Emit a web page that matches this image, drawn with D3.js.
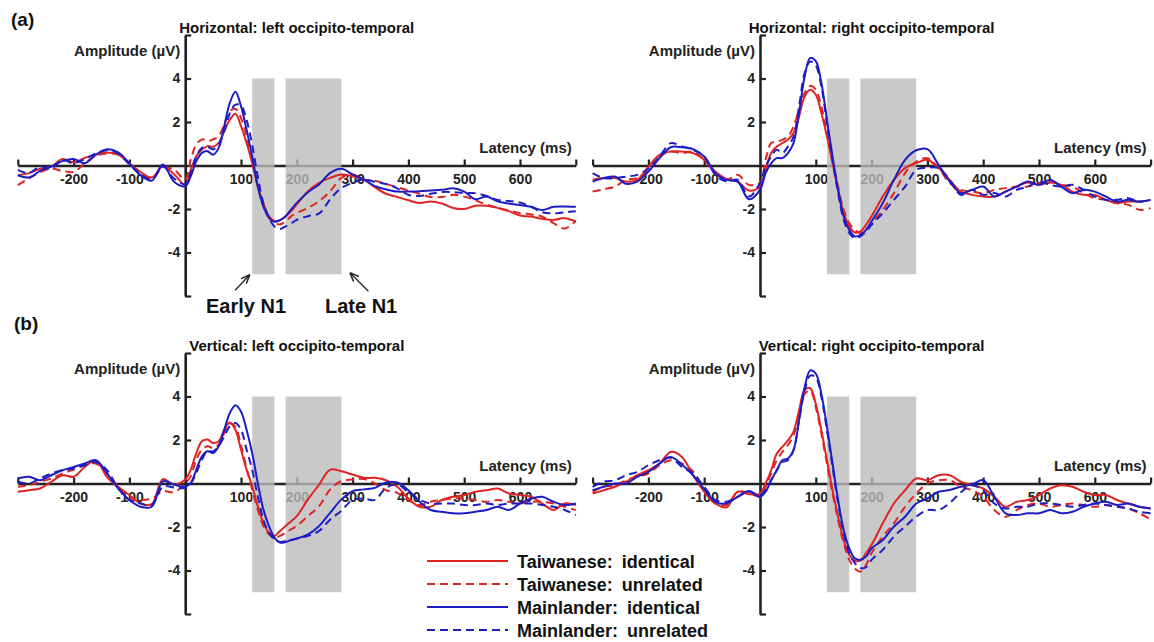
<!DOCTYPE html>
<html>
<head>
<meta charset="utf-8">
<script src="https://d3js.org/d3.v7.min.js"></script>
<style>
body { margin: 0; background: #fff; }
svg text { font-family: "Liberation Sans", Arial, sans-serif; font-weight: bold; }
</style>
</head>
<body>
<div id="canvas"></div>
<script>
"use strict"

/* latency samples (ms) shared by every curve */
let latency = [-300,-280,-260,-240,-220,-200,-180,-160,-140,-120,-100,-80,-60,-40,-20,0,
    10,20,30,40,50,60,70,80,90,100,110,120,130,140,150,160,170,180,190,200,
    220,240,260,280,300,320,340,360,380,400,420,440,460,480,500,520,540,560,580,600,620,640,660,680,700];

let conditions = ["Taiwanese: identical", "Taiwanese: unrelated", "Mainlander: identical", "Mainlander: unrelated"];
let panelTitles = ["Horizontal: left occipito-temporal", "Horizontal: right occipito-temporal",
    "Vertical: left occipito-temporal", "Vertical: right occipito-temporal"];
let xTicks = [-300, -200, -100, 100, 200, 300, 400, 500, 600, 700];
let yTicks = [-6, -4, -2, 2, 4, 6];
let earlyN1 = [120, 160];
let lateN1 = [180, 280];

// Horizontal, left occipito-temporal (uV)
let hlTaiIdentical = [-0.45,-0.35,-0.15,-0.05,0.3,0.15,0.35,0.5,0.6,0.5,0.1,-0.3,-0.55,-0.05,-0.4,-0.9,
    -0.2,0.43,0.74,0.89,0.86,1.04,1.58,2.11,2.38,1.81,1.04,0.12,-0.95,-1.72,-2.33,-2.56,-2.51,-2.33,-2.1,-1.79,
    -1.18,-0.8,-0.57,-0.41,-0.49,-0.64,-1.0,-1.3,-1.45,-1.6,-1.72,-1.65,-1.75,-1.95,-2.0,-1.85,-1.85,-1.95,-2.1,-2.3,-2.35,-2.45,-2.5,-2.42,-2.57];
let hlTaiUnrelated = [-0.9,-0.6,-0.3,-0.15,-0.25,-0.3,0.1,0.45,0.55,0.5,0.1,-0.35,-0.6,-0.1,-0.2,-0.64,
    0.28,0.97,1.2,1.12,1.2,1.35,1.88,2.5,2.6,2.19,1.35,0.28,-0.95,-1.87,-2.4,-2.64,-2.71,-2.56,-2.33,-2.18,
    -1.95,-1.64,-1.18,-0.57,-0.41,-0.64,-0.7,-0.85,-1.0,-1.15,-1.3,-1.45,-1.45,-1.35,-1.43,-1.6,-1.8,-1.95,-2.07,-2.19,-2.25,-2.35,-2.65,-2.9,-2.55];
let hlMaiIdentical = [-0.45,-0.55,-0.25,-0.05,0.2,0.3,0.1,0.5,0.75,0.6,0.1,-0.45,-0.7,0.05,-0.75,-0.95,
    -0.49,0.2,0.58,0.66,0.5,0.81,1.81,2.88,3.39,2.73,1.65,0.43,-0.95,-1.87,-2.4,-2.59,-2.51,-2.33,-2.02,-1.72,
    -1.23,-0.87,-0.34,-0.15,-0.41,-0.64,-0.95,-1.1,-1.2,-1.2,-1.18,-1.15,-1.12,-1.05,-1.2,-1.55,-1.43,-1.65,-1.75,-1.82,-1.9,-2.05,-1.9,-1.88,-1.9];
let hlMaiUnrelated = [-0.2,-0.35,-0.05,-0.15,0.25,0.1,0.3,0.55,0.7,0.55,0.05,-0.4,-0.65,-0.05,-0.6,-0.85,
    -0.34,0.43,0.81,0.86,0.74,0.97,1.58,2.4,2.8,2.75,2.1,0.95,-0.5,-1.72,-2.4,-2.8,-2.92,-2.8,-2.66,-2.5,
    -2.33,-2.2,-1.55,-1.03,-0.8,-0.64,-0.75,-0.85,-1.05,-1.35,-1.4,-1.3,-1.22,-1.22,-1.27,-1.27,-1.4,-1.58,-1.63,-1.7,-1.9,-2.15,-2.2,-2.15,-2.1];

// Horizontal, right occipito-temporal (uV)
let hrTaiIdentical = [-0.66,-0.58,-0.58,-0.74,-0.66,-0.05,0.49,0.64,0.64,0.57,0.26,-0.28,-0.63,-0.74,-1.15,-0.97,
    -0.2,0.57,0.87,1.03,1.18,1.49,2.25,3.17,3.48,3.25,2.41,1.33,0.11,-1.12,-2.19,-2.8,-3.08,-3.03,-2.73,-2.34,
    -1.43,-0.66,-0.12,0.11,0.26,-0.12,-0.66,-1.2,-1.35,-1.43,-1.43,-1.2,-0.97,-0.78,-0.89,-0.78,-0.89,-1.2,-1.35,-1.35,-1.58,-1.73,-1.66,-1.66,-1.58];
let hrTaiUnrelated = [-1.2,-1.09,-0.97,-0.66,-0.58,-0.2,0.41,0.64,0.57,0.64,0.26,-0.35,-0.66,-0.43,-0.89,-0.8,
    0.26,1.03,1.1,1.18,1.33,1.79,2.56,3.33,3.66,3.48,2.71,1.49,0.26,-0.97,-2.04,-2.65,-2.96,-3.11,-2.96,-2.65,
    -2.04,-1.27,-0.35,0.18,0.34,-0.12,-0.81,-1.12,-1.2,-1.27,-1.12,-1.04,-0.97,-0.97,-0.81,-0.74,-0.89,-0.97,-1.27,-1.5,-1.58,-1.73,-1.81,-2.04,-1.96];
let hrMaiIdentical = [-0.74,-0.58,-0.51,-0.84,-0.74,-0.28,0.34,0.84,0.84,0.75,0.41,-0.35,-0.66,-0.74,-1.55,-1.12,
    -0.35,0.1,0.34,0.34,0.57,1.03,2.41,4.09,4.95,4.8,3.79,2.1,0.41,-1.12,-2.34,-2.96,-3.26,-3.19,-2.96,-2.57,
    -1.73,-0.66,0.26,0.7,0.75,0.03,-0.74,-1.27,-1.12,-0.97,-1.43,-1.2,-0.97,-0.74,-0.89,-0.66,-0.97,-1.27,-1.12,-1.2,-1.43,-1.66,-1.58,-1.66,-1.58];
let hrMaiUnrelated = [-0.35,-0.58,-0.58,-0.51,-0.43,-0.15,0.41,1.03,0.87,0.72,0.41,-0.43,-0.74,-0.66,-1.43,-0.8,
    -0.05,0.41,0.72,0.57,0.87,1.33,2.71,4.25,4.78,4.6,3.63,1.95,0.26,-1.27,-2.5,-3.11,-3.34,-3.26,-3.03,-2.73,
    -2.19,-1.58,-0.97,-0.2,-0.1,-0.12,-0.66,-1.35,-1.12,-1.35,-1.27,-1.43,-1.12,-0.97,-0.74,-0.89,-0.97,-0.89,-1.12,-1.43,-1.58,-1.58,-1.5,-1.66,-1.58];

// Vertical, left occipito-temporal (uV)
let vlTaiIdentical = [-0.38,-0.31,-0.23,0.08,0.38,0.31,0.76,1.05,0.3,-0.15,-0.53,-0.92,-0.95,0.2,-0.05,0.18,
    0.64,1.4,1.94,2.02,1.86,1.94,2.47,2.81,2.47,1.56,0.64,-0.12,-1.04,-1.8,-2.26,-2.41,-2.18,-1.95,-1.73,-1.5,
    -0.73,-0.05,0.64,0.56,0.41,0.26,0.26,0.15,-0.15,-0.69,-1.07,-1.07,-0.76,-0.61,-0.53,-0.38,-0.31,-0.23,-0.46,-0.53,-0.61,-0.92,-1.22,-0.92,-0.99];
let vlTaiUnrelated = [-0.15,-0.08,0.08,0.23,0.46,0.64,0.84,0.92,0.46,-0.15,-0.69,-0.76,-0.69,-0.35,-0.4,0,
    0.34,1.1,1.56,1.71,1.63,1.79,2.32,2.75,2.6,1.75,0.7,-0.27,-1.19,-1.95,-2.34,-2.49,-2.41,-2.26,-2.1,-1.95,
    -1.5,-1.04,-0.27,0.11,0.18,0.21,0,-0.31,-0.43,-0.76,-0.99,-0.84,-0.76,-0.69,-0.69,-0.76,-0.84,-0.76,-0.84,-0.92,-0.84,-0.84,-0.92,-1.07,-1.22];
let vlMaiIdentical = [0.23,0.31,0.15,0.38,0.61,0.76,0.92,1.07,0.46,-0.23,-0.76,-1.07,-1.07,0.1,-0.05,-0.15,
    0.03,0.64,1.25,1.48,1.4,1.71,2.47,3.24,3.6,3.31,2.47,1.4,0.03,-1.19,-1.95,-2.49,-2.72,-2.69,-2.6,-2.53,
    -2.34,-1.95,-1.34,-0.73,-0.35,-0.27,-0.2,0.05,0.05,-0.31,-0.84,-1.22,-1.3,-1.37,-1.37,-1.3,-1.22,-1.07,-1.22,-0.92,-0.69,-0.61,-0.84,-0.99,-0.92];
let vlMaiUnrelated = [0.08,0,0.23,0.46,0.61,0.69,0.84,0.99,0.61,-0.23,-0.76,-0.92,-0.99,-0.15,-0.18,-0.2,
    0,0.49,1.1,1.48,1.48,1.71,2.17,2.63,2.78,2.47,1.56,0.64,-0.58,-1.65,-2.26,-2.56,-2.69,-2.64,-2.6,-2.53,
    -2.41,-2.18,-1.65,-1.25,-0.75,-0.7,-0.75,-0.2,-0.05,-0.4,-0.75,-0.92,-0.92,-0.92,-0.99,-0.99,-0.92,-0.99,-0.92,-0.92,-0.92,-0.99,-1.07,-1.22,-1.45];

// Vertical, right occipito-temporal (uV)
let vrTaiIdentical = [-0.46,-0.31,-0.15,0.08,0.38,0.61,0.92,1.45,1.22,0.38,-0.38,-0.92,-1.1,-0.38,-0.49,-0.46,
    0,0.61,1.37,1.68,1.98,2.37,3.36,4.3,4.38,3.66,2.44,1.07,-0.31,-1.53,-2.6,-3.28,-3.55,-3.55,-3.2,-2.82,
    -1.83,-0.92,-0.31,0.23,0.15,0.38,0.38,0.08,-0.08,-0.23,-0.61,-1.07,-0.84,-0.76,-0.53,-0.23,-0.08,-0.15,-0.38,-0.53,-0.53,-0.76,-0.92,-1.07,-1.15];
let vrTaiUnrelated = [-0.38,-0.15,-0.08,0.15,0.31,0.46,0.84,1.07,0.92,0.56,-0.27,-0.92,-0.99,-0.38,-0.43,-0.6,
    -0.15,0.46,1.07,1.45,1.76,2.21,3.2,4.12,4.27,3.51,2.29,0.92,-0.46,-1.68,-2.75,-3.51,-3.9,-4.05,-3.75,-3.2,
    -2.44,-1.83,-1.07,-0.46,0,0.15,0.15,-0.15,-0.31,-0.61,-1.22,-1.53,-1.22,-0.99,-0.92,-1.07,-0.99,-0.92,-0.99,-1.07,-0.99,-1.07,-1.15,-1.37,-1.65];
let vrMaiIdentical = [-0.31,-0.15,0,0,0.31,0.53,0.92,1.22,0.87,0.38,-0.26,-0.84,-0.92,-0.61,-0.35,-0.61,
    -0.38,0.15,0.61,1.07,1.15,1.53,2.9,4.43,5.2,5.05,4.12,2.6,0.92,-0.76,-2.14,-2.98,-3.44,-3.51,-3.36,-2.98,
    -2.6,-1.98,-1.53,-0.92,-0.69,-0.38,-0.3,-0.15,-0.05,0.15,-0.61,-1.37,-1.45,-1.37,-1.37,-1.22,-1.37,-1.3,-1.07,-0.92,-0.84,-0.99,-0.92,-1.07,-1.15];
let vrMaiUnrelated = [-0.15,0.08,0.15,0.38,0.53,0.84,1.07,1.19,0.76,0.46,-0.15,-0.76,-0.84,-0.61,-0.38,-0.53,
    -0.3,0.15,0.61,0.99,1.07,1.53,2.9,4.27,4.96,4.88,3.97,2.44,0.76,-0.92,-2.29,-3.2,-3.66,-3.89,-3.85,-3.51,
    -3.05,-2.44,-1.98,-1.53,-1.22,-1.22,-0.9,-0.4,-0.08,-0.31,-0.92,-1.15,-1.07,-1.07,-0.92,-0.92,-0.99,-1.07,-0.99,-0.92,-0.99,-1.07,-1.15,-1.3,-1.37];

/* line styles for the four conditions, same order as conditions */
let lineColors = ["#e02424", "#e02424", "#1d1dc4", "#1d1dc4"];
let lineDashes = [null, "8,5", null, "8,5"];

/* panel placement: left edge of the latency axis and top of the amplitude axis */
let panels = [
    {title: panelTitles[0], left: 17.8, top: 35, series: [hlTaiIdentical, hlTaiUnrelated, hlMaiIdentical, hlMaiUnrelated]},
    {title: panelTitles[1], left: 592.6, top: 35, series: [hrTaiIdentical, hrTaiUnrelated, hrMaiIdentical, hrMaiUnrelated]},
    {title: panelTitles[2], left: 17.8, top: 353, series: [vlTaiIdentical, vlTaiUnrelated, vlMaiIdentical, vlMaiUnrelated]},
    {title: panelTitles[3], left: 592.6, top: 353, series: [vrTaiIdentical, vrTaiUnrelated, vrMaiIdentical, vrMaiUnrelated]}
];

let drawing = d3.select("#canvas")
    .append("svg")
    .attr("width", 1154)
    .attr("height", 642);

let defs = drawing.append("defs");
defs.append("marker")
    .attr("id", "arrowHead")
    .attr("viewBox", "0 0 10 10")
    .attr("refX", 9)
    .attr("refY", 5)
    .attr("markerWidth", 7)
    .attr("markerHeight", 7)
    .attr("orient", "auto")
    .append("path")
    .attr("d", "M0,1 L10,5 L0,9")
    .attr("fill", "none")
    .attr("stroke", "#222")
    .attr("stroke-width", 1.6);

function drawPanel(p, index) {
    let x = d3.scaleLinear().domain([-300, 700]).range([p.left, p.left + 558]);
    let y = d3.scaleLinear().domain([-6, 6]).range([p.top + 261, p.top]);
    let g = drawing.append("g");

    // latency axis, ticks pointing up
    let xAxis = g.append("g")
        .attr("transform", "translate(0," + y(0) + ")")
        .call(d3.axisBottom(x)
            .tickValues(xTicks)
            .tickSize(-6)
            .tickSizeOuter(0)
            .tickPadding(9)
            .tickFormat(d => (d == -300 || d == 700) ? "" : String(d)));

    // amplitude axis, ticks pointing right
    let yAxis = g.append("g")
        .attr("transform", "translate(" + x(0) + ",0)")
        .call(d3.axisLeft(y)
            .tickValues(yTicks)
            .tickSize(-6)
            .tickSizeOuter(0)
            .tickPadding(5)
            .tickFormat(d => Math.abs(d) == 6 ? "" : String(d)));

    [xAxis, yAxis].forEach(a => {
        a.attr("font-family", null).attr("font-size", null);
        a.select(".domain").attr("stroke", "#222").attr("stroke-width", 2.6);
        a.selectAll(".tick line").attr("stroke", "#222").attr("stroke-width", 2.2);
        a.selectAll(".tick text").attr("fill", "#222").style("font-size", "14px");
    });

    // N1 time windows, drawn over the axes
    [earlyN1, lateN1].forEach(w => {
        g.append("rect")
            .attr("x", x(w[0]))
            .attr("y", y(4))
            .attr("width", x(w[1]) - x(w[0]))
            .attr("height", y(-5) - y(4))
            .attr("fill", "#bcbcbc")
            .attr("opacity", 0.8);
    });

    let line = d3.line()
        .x((d, i) => x(latency[i]))
        .y(d => y(d))
        .curve(d3.curveCatmullRom.alpha(0.5));

    p.series.forEach((values, k) => {
        g.append("path")
            .attr("d", line(values))
            .attr("fill", "none")
            .attr("stroke", lineColors[k])
            .attr("stroke-width", 2)
            .attr("stroke-dasharray", lineDashes[k]);
    });

    g.append("text")
        .attr("x", (x(-300) + x(700)) / 2)
        .attr("y", p.top - 2)
        .attr("text-anchor", "middle")
        .style("font-size", "15px")
        .attr("fill", "#111")
        .text(p.title);

    g.append("text")
        .attr("x", x(0) - 5)
        .attr("y", p.top + 21)
        .attr("text-anchor", "end")
        .style("font-size", "15px")
        .attr("fill", "#222")
        .text("Amplitude (\u00b5V)");

    g.append("text")
        .attr("x", x(700) - 4)
        .attr("y", y(0) - 13)
        .attr("text-anchor", "end")
        .style("font-size", "15px")
        .attr("fill", "#222")
        .text("Latency (ms)");

    // arrows and labels for the N1 windows, first panel only
    if (index == 0) {
        g.append("line")
            .attr("x1", x(120) - 17).attr("y1", y(-5) + 16)
            .attr("x2", x(120) - 3).attr("y2", y(-5) + 1)
            .attr("stroke", "#222").attr("stroke-width", 1.3)
            .attr("marker-end", "url(#arrowHead)");
        g.append("line")
            .attr("x1", x(280) + 27).attr("y1", y(-5) + 17)
            .attr("x2", x(280) + 9).attr("y2", y(-5) - 1)
            .attr("stroke", "#222").attr("stroke-width", 1.3)
            .attr("marker-end", "url(#arrowHead)");
        g.append("text")
            .attr("x", 206).attr("y", 313)
            .style("font-size", "20px").attr("fill", "#111")
            .text("Early N1");
        g.append("text")
            .attr("x", 325).attr("y", 313)
            .style("font-size", "20px").attr("fill", "#111")
            .text("Late N1");
    }
}

panels.forEach(drawPanel);

drawing.append("text").attr("x", 11).attr("y", 26)
    .style("font-size", "19px").attr("fill", "#111").text("(a)");
drawing.append("text").attr("x", 14).attr("y", 330)
    .style("font-size", "19px").attr("fill", "#111").text("(b)");

// legend
let legend = drawing.append("g").attr("transform", "translate(427,561)");
conditions.forEach((name, k) => {
    let row = legend.append("g").attr("transform", "translate(0," + (k * 23) + ")");
    row.append("line")
        .attr("x1", 0).attr("x2", 81)
        .attr("y1", 0).attr("y2", 0)
        .attr("stroke", lineColors[k])
        .attr("stroke-width", 2)
        .attr("stroke-dasharray", lineDashes[k]);
    row.append("text")
        .attr("x", 90).attr("y", 6.5)
        .style("font-size", "18px")
        .style("word-spacing", "4px")
        .attr("fill", "#111")
        .text(name);
});
</script>
</body>
</html>
